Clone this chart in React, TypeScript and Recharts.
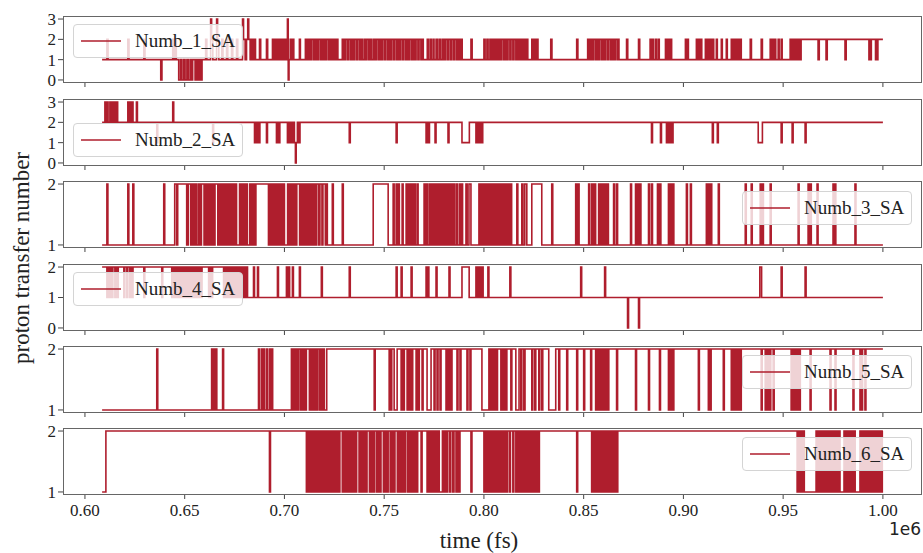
import React from 'react';
import { LineChart, Line, XAxis, YAxis } from 'recharts';

// time in units of 1e6 fs; each [time, level] pair starts a new step
const numb1: [number, number][] = [
  [0.6086, 1], [0.6110, 2], [0.6116, 1], [0.6215, 2], [0.6221, 1], [0.6295, 2], [0.6301, 1],
  [0.6380, 0], [0.6386, 1], [0.6440, 2], [0.6446, 1], [0.6452, 2], [0.6458, 1],
  [0.6470, 0], [0.6479, 1], [0.6486, 0], [0.6495, 1], [0.6502, 0], [0.6511, 1], [0.6518, 0], [0.6527, 1],
  [0.6533, 0], [0.6540, 1], [0.6552, 0], [0.6560, 1], [0.6567, 0], [0.6575, 1], [0.6580, 0], [0.6587, 1],
  [0.6605, 2], [0.6611, 1], [0.6630, 3], [0.6635, 2], [0.6641, 1], [0.6660, 3], [0.6665, 2], [0.6671, 1],
  [0.6686, 2], [0.6692, 1], [0.6710, 2], [0.6716, 1], [0.6735, 2], [0.6741, 1], [0.6760, 2], [0.6766, 1],
  [0.6790, 3], [0.6795, 2], [0.6803, 1], [0.6810, 2], [0.6816, 3], [0.6821, 2], [0.6828, 1], [0.6835, 2],
  [0.6842, 1], [0.6848, 2], [0.6855, 1], [0.6875, 2], [0.6881, 1], [0.6910, 2], [0.6916, 1],
  [0.6940, 2], [0.6948, 1], [0.6955, 2], [0.6963, 1], [0.6970, 2], [0.6978, 1], [0.6986, 2], [0.6993, 1],
  [0.7001, 2], [0.7009, 1], [0.7015, 3], [0.7019, 0], [0.7023, 1], [0.7029, 2], [0.7036, 1], [0.7041, 2],
  [0.7047, 1], [0.7075, 2], [0.7080, 1],
  [0.7105, 2], [0.7113, 1], [0.7120, 2], [0.7128, 1], [0.7135, 2], [0.7144, 1], [0.7150, 2], [0.7158, 1],
  [0.7163, 2], [0.7168, 1], [0.7172, 2], [0.7181, 1], [0.7188, 2], [0.7196, 1], [0.7201, 2], [0.7206, 1],
  [0.7212, 2], [0.7221, 1], [0.7228, 2], [0.7236, 1], [0.7241, 2], [0.7246, 1], [0.7249, 2], [0.7257, 1],
  [0.7263, 2], [0.7268, 1],
  [0.7290, 2], [0.7298, 1], [0.7305, 2], [0.7314, 1], [0.7320, 2], [0.7329, 1], [0.7337, 2], [0.7344, 1],
  [0.7352, 2], [0.7361, 1], [0.7367, 2], [0.7376, 1], [0.7383, 2], [0.7390, 1], [0.7399, 2], [0.7407, 1],
  [0.7414, 2], [0.7423, 1], [0.7429, 2], [0.7437, 1], [0.7446, 2], [0.7453, 1], [0.7460, 2], [0.7469, 1],
  [0.7476, 2], [0.7484, 1], [0.7491, 2], [0.7500, 1], [0.7506, 2], [0.7515, 1], [0.7522, 2], [0.7530, 1],
  [0.7537, 2], [0.7546, 1], [0.7552, 2], [0.7561, 1], [0.7568, 2], [0.7576, 1], [0.7583, 2], [0.7592, 1],
  [0.7598, 2], [0.7607, 1], [0.7614, 2], [0.7622, 1], [0.7629, 2], [0.7638, 1], [0.7645, 2], [0.7653, 1],
  [0.7660, 2], [0.7669, 1], [0.7675, 2], [0.7684, 1], [0.7690, 2], [0.7696, 1],
  [0.7716, 2], [0.7722, 1], [0.7731, 2], [0.7736, 1], [0.7745, 2], [0.7750, 1], [0.7760, 2], [0.7766, 1],
  [0.7775, 2], [0.7781, 1], [0.7790, 2], [0.7798, 1], [0.7806, 2], [0.7815, 1], [0.7822, 2], [0.7831, 1],
  [0.7838, 2], [0.7847, 1], [0.7854, 2], [0.7863, 1], [0.7870, 2], [0.7878, 1], [0.7885, 2], [0.7891, 1],
  [0.7935, 2], [0.7941, 1],
  [0.8000, 2], [0.8006, 1], [0.8015, 2], [0.8021, 1], [0.8030, 2], [0.8038, 1], [0.8045, 2], [0.8053, 1],
  [0.8060, 2], [0.8068, 1], [0.8075, 2], [0.8083, 1], [0.8090, 2], [0.8099, 1], [0.8106, 2], [0.8114, 1],
  [0.8121, 2], [0.8130, 1], [0.8136, 2], [0.8145, 1], [0.8151, 2], [0.8160, 1], [0.8167, 2], [0.8175, 1],
  [0.8182, 2], [0.8190, 1], [0.8198, 2], [0.8206, 1], [0.8213, 2], [0.8220, 1],
  [0.8240, 2], [0.8247, 1], [0.8254, 2], [0.8262, 1], [0.8266, 2], [0.8271, 1],
  [0.8335, 2], [0.8341, 1], [0.8465, 2], [0.8471, 1],
  [0.8520, 2], [0.8528, 1], [0.8535, 2], [0.8543, 1], [0.8550, 2], [0.8559, 1], [0.8566, 2], [0.8574, 1],
  [0.8581, 2], [0.8590, 1], [0.8597, 2], [0.8605, 1], [0.8612, 2], [0.8621, 1], [0.8627, 2], [0.8636, 1],
  [0.8643, 2], [0.8651, 1], [0.8658, 2], [0.8667, 1], [0.8671, 2], [0.8677, 1],
  [0.8715, 2], [0.8721, 1], [0.8775, 2], [0.8781, 1], [0.8833, 2], [0.8838, 1], [0.8845, 2], [0.8850, 1],
  [0.8860, 2], [0.8865, 1], [0.8874, 2], [0.8879, 1], [0.8910, 2], [0.8915, 1], [0.8922, 2], [0.8927, 1],
  [0.8935, 2], [0.8941, 1], [0.9010, 2], [0.9014, 1], [0.9020, 2], [0.9025, 1], [0.9065, 2], [0.9070, 1],
  [0.9077, 2], [0.9082, 1], [0.9087, 2], [0.9092, 1], [0.9110, 2], [0.9116, 1], [0.9122, 2], [0.9128, 1],
  [0.9134, 2], [0.9140, 1], [0.9146, 2], [0.9152, 1], [0.9165, 2], [0.9170, 1], [0.9190, 2], [0.9195, 1],
  [0.9215, 2], [0.9220, 1], [0.9240, 2], [0.9247, 1], [0.9254, 2], [0.9261, 1], [0.9268, 2], [0.9275, 1],
  [0.9282, 2], [0.9290, 1], [0.9335, 2], [0.9341, 1], [0.9390, 2], [0.9396, 1], [0.9435, 2], [0.9441, 1],
  [0.9447, 2], [0.9453, 1], [0.9458, 2], [0.9463, 1], [0.9475, 2], [0.9480, 1], [0.9490, 2], [0.9495, 1],
  [0.9535, 2], [0.9542, 1], [0.9549, 2], [0.9556, 1], [0.9563, 2], [0.9570, 1], [0.9577, 2], [0.9584, 1],
  [0.9590, 2], [0.9675, 1], [0.9681, 2], [0.9715, 1], [0.9721, 2], [0.9810, 1], [0.9816, 2],
  [0.9930, 1], [0.9934, 2], [0.9938, 1], [0.9942, 2], [0.9963, 1], [0.9967, 2], [0.9971, 1], [0.9975, 2],
  [1.0000, 2],
];

const numb2: [number, number][] = [
  [0.6086, 2], [0.6100, 3], [0.6106, 2], [0.6110, 3], [0.6116, 2], [0.6125, 3], [0.6130, 2], [0.6134, 3],
  [0.6140, 2], [0.6148, 3], [0.6153, 2], [0.6158, 3], [0.6164, 2], [0.6215, 3], [0.6220, 2], [0.6226, 3],
  [0.6232, 2], [0.6236, 3], [0.6241, 2], [0.6258, 3], [0.6263, 2], [0.6360, 1], [0.6365, 2],
  [0.6440, 3], [0.6445, 2], [0.6640, 1], [0.6645, 2],
  [0.6850, 1], [0.6856, 2], [0.6862, 1], [0.6868, 2], [0.6872, 1], [0.6877, 2], [0.6910, 1], [0.6915, 2],
  [0.6960, 1], [0.6965, 2], [0.6972, 1], [0.6977, 2], [0.7015, 1], [0.7020, 2], [0.7026, 1], [0.7031, 2],
  [0.7038, 1], [0.7043, 2], [0.7050, 1], [0.7055, 0], [0.7059, 1], [0.7065, 2], [0.7072, 1], [0.7078, 2],
  [0.7325, 1], [0.7330, 2], [0.7560, 1], [0.7565, 2], [0.7710, 1], [0.7715, 2], [0.7720, 1], [0.7727, 2],
  [0.7755, 1], [0.7760, 2], [0.7820, 1], [0.7825, 2], [0.7890, 1], [0.7927, 2],
  [0.7960, 1], [0.7965, 2], [0.7969, 1], [0.7974, 2], [0.7978, 1], [0.7984, 2], [0.7988, 1], [0.7994, 2],
  [0.8840, 1], [0.8845, 2], [0.8885, 1], [0.8890, 2], [0.8915, 1], [0.8920, 2], [0.8925, 1], [0.8930, 2],
  [0.8935, 1], [0.8940, 2], [0.8944, 1], [0.8948, 2], [0.9145, 1], [0.9150, 2], [0.9170, 1], [0.9175, 2],
  [0.9375, 1], [0.9396, 2], [0.9490, 1], [0.9495, 2], [0.9545, 1], [0.9550, 2], [0.9610, 1], [0.9615, 2],
  [1.0000, 2],
];

const numb3: [number, number][] = [
  [0.6086, 1], [0.6110, 2], [0.6115, 1], [0.6215, 2], [0.6220, 1], [0.6240, 2], [0.6245, 1],
  [0.6395, 2], [0.6400, 1], [0.6450, 2], [0.6460, 1], [0.6465, 2],
  [0.6510, 1], [0.6518, 2], [0.6530, 1], [0.6537, 2], [0.6545, 1], [0.6553, 2], [0.6561, 1], [0.6570, 2],
  [0.6577, 1], [0.6584, 2], [0.6597, 1], [0.6604, 2], [0.6612, 1], [0.6620, 2], [0.6628, 1], [0.6636, 2],
  [0.6644, 1], [0.6652, 2], [0.6666, 1], [0.6673, 2], [0.6681, 1], [0.6689, 2], [0.6697, 1], [0.6705, 2],
  [0.6713, 1], [0.6721, 2], [0.6729, 1], [0.6737, 2], [0.6745, 1], [0.6753, 2], [0.6760, 1], [0.6775, 2],
  [0.6783, 1], [0.6791, 2], [0.6799, 1], [0.6806, 2], [0.6814, 1], [0.6826, 2], [0.6834, 1], [0.6842, 2],
  [0.6850, 1], [0.6857, 2],
  [0.6920, 1], [0.6928, 2], [0.6936, 1], [0.6944, 2], [0.6952, 1], [0.6960, 2], [0.6968, 1], [0.6976, 2],
  [0.6984, 1], [0.6992, 2], [0.7000, 1], [0.7016, 2], [0.7024, 1], [0.7032, 2], [0.7040, 1], [0.7048, 2],
  [0.7056, 1], [0.7062, 2], [0.7076, 1], [0.7083, 2], [0.7090, 1], [0.7098, 2], [0.7106, 1], [0.7114, 2],
  [0.7122, 1], [0.7130, 2], [0.7138, 1], [0.7146, 2], [0.7154, 1], [0.7162, 2], [0.7172, 1], [0.7178, 2],
  [0.7188, 1], [0.7193, 2], [0.7205, 1], [0.7210, 2], [0.7215, 1],
  [0.7240, 2], [0.7245, 1], [0.7290, 2], [0.7295, 1], [0.7445, 2], [0.7520, 1], [0.7545, 2], [0.7550, 1],
  [0.7560, 2], [0.7565, 1], [0.7570, 2], [0.7576, 1], [0.7590, 2], [0.7595, 1],
  [0.7610, 2], [0.7617, 1], [0.7624, 2], [0.7631, 1], [0.7638, 2], [0.7645, 1], [0.7650, 2], [0.7656, 1],
  [0.7665, 2], [0.7670, 1], [0.7700, 2], [0.7706, 1], [0.7711, 2], [0.7716, 1],
  [0.7725, 2], [0.7733, 1], [0.7741, 2], [0.7749, 1], [0.7757, 2], [0.7765, 1], [0.7773, 2], [0.7781, 1],
  [0.7789, 2], [0.7797, 1], [0.7805, 2], [0.7813, 1], [0.7821, 2], [0.7829, 1], [0.7835, 2], [0.7840, 1],
  [0.7848, 2], [0.7853, 1], [0.7862, 2], [0.7867, 1], [0.7877, 2], [0.7882, 1], [0.7888, 2], [0.7893, 1],
  [0.7910, 2], [0.7916, 1], [0.7925, 2], [0.7935, 1], [0.7975, 2], [0.7980, 1],
  [0.7987, 2], [0.7995, 1], [0.8003, 2], [0.8011, 1], [0.8019, 2], [0.8027, 1], [0.8035, 2], [0.8043, 1],
  [0.8051, 2], [0.8059, 1], [0.8067, 2], [0.8075, 1], [0.8083, 2], [0.8091, 1], [0.8099, 2], [0.8107, 1],
  [0.8115, 2], [0.8123, 1], [0.8131, 2], [0.8139, 1],
  [0.8165, 2], [0.8170, 1], [0.8190, 2], [0.8196, 1], [0.8205, 2], [0.8215, 1], [0.8240, 2], [0.8290, 1],
  [0.8340, 2], [0.8345, 1], [0.8460, 2], [0.8465, 1], [0.8472, 2], [0.8477, 1], [0.8525, 2], [0.8530, 1],
  [0.8540, 2], [0.8546, 1], [0.8553, 2], [0.8560, 1], [0.8575, 2], [0.8582, 1], [0.8589, 2], [0.8596, 1],
  [0.8603, 2], [0.8610, 1], [0.8617, 2], [0.8624, 1], [0.8650, 2], [0.8655, 1], [0.8665, 2], [0.8670, 1],
  [0.8735, 2], [0.8740, 1], [0.8760, 2], [0.8766, 1], [0.8772, 2], [0.8778, 1], [0.8782, 2], [0.8787, 1],
  [0.8825, 2], [0.8830, 1], [0.8840, 2], [0.8845, 1], [0.8870, 2], [0.8876, 1], [0.8881, 2], [0.8887, 1],
  [0.8925, 2], [0.8931, 1], [0.8937, 2], [0.8943, 1], [0.8947, 2], [0.8952, 1], [0.9015, 2], [0.9020, 1],
  [0.9035, 2], [0.9040, 1], [0.9115, 2], [0.9121, 1], [0.9127, 2], [0.9133, 1], [0.9137, 2], [0.9142, 1],
  [0.9175, 2], [0.9180, 1], [0.9310, 2], [0.9315, 1], [0.9340, 2], [0.9345, 1], [0.9385, 2], [0.9390, 1],
  [0.9396, 2], [0.9401, 1], [0.9435, 2], [0.9440, 1], [0.9575, 2], [0.9580, 1], [0.9625, 2], [0.9630, 1],
  [0.9636, 2], [0.9641, 1], [0.9670, 2], [0.9675, 1], [0.9750, 2], [0.9754, 1], [0.9760, 2], [0.9764, 1],
  [0.9860, 2], [0.9865, 1], [1.0000, 1],
];

const numb4: [number, number][] = [
  [0.6086, 2], [0.6110, 1], [0.6115, 2], [0.6122, 1], [0.6128, 2], [0.6135, 1], [0.6140, 2], [0.6150, 1],
  [0.6156, 2], [0.6162, 1], [0.6167, 2], [0.6195, 1], [0.6200, 2], [0.6210, 1], [0.6215, 2], [0.6225, 1],
  [0.6230, 2], [0.6236, 1], [0.6241, 2], [0.6295, 1], [0.6300, 2], [0.6385, 1], [0.6390, 2],
  [0.6435, 1], [0.6443, 2], [0.6451, 1], [0.6459, 2], [0.6467, 1], [0.6475, 2], [0.6483, 1], [0.6491, 2],
  [0.6499, 1], [0.6507, 2], [0.6515, 1], [0.6523, 2], [0.6531, 1], [0.6539, 2], [0.6547, 1], [0.6555, 2],
  [0.6563, 1], [0.6571, 2], [0.6579, 1], [0.6587, 2], [0.6620, 1], [0.6626, 2], [0.6634, 1], [0.6640, 2],
  [0.6695, 1], [0.6703, 2], [0.6711, 1], [0.6719, 2], [0.6727, 1], [0.6735, 2], [0.6743, 1], [0.6751, 2],
  [0.6759, 1], [0.6767, 2], [0.6775, 1], [0.6783, 2], [0.6791, 1], [0.6798, 2], [0.6803, 1],
  [0.6810, 2], [0.6815, 1], [0.6845, 2], [0.6850, 1], [0.6865, 2], [0.6870, 1], [0.6965, 2], [0.6970, 1],
  [0.7010, 2], [0.7015, 1], [0.7021, 2], [0.7026, 1], [0.7040, 2], [0.7045, 1], [0.7075, 2], [0.7080, 1],
  [0.7185, 2], [0.7190, 1], [0.7325, 2], [0.7330, 1], [0.7560, 2], [0.7565, 1], [0.7585, 2], [0.7590, 1],
  [0.7635, 2], [0.7640, 1], [0.7710, 2], [0.7715, 1], [0.7719, 2], [0.7724, 1], [0.7760, 2], [0.7765, 1],
  [0.7825, 2], [0.7830, 1], [0.7890, 2], [0.7926, 1], [0.7960, 2], [0.7965, 1], [0.7970, 2], [0.7975, 1],
  [0.7980, 2], [0.7985, 1], [0.7990, 2], [0.7996, 1], [0.8020, 2], [0.8025, 1], [0.8130, 2], [0.8135, 1],
  [0.8485, 2], [0.8490, 1], [0.8605, 2], [0.8610, 1], [0.8720, 0], [0.8725, 1], [0.8775, 0], [0.8780, 1],
  [0.9383, 2], [0.9392, 1], [0.9490, 2], [0.9495, 1], [0.9610, 2], [0.9615, 1], [1.0000, 1],
];

const numb5: [number, number][] = [
  [0.6086, 1], [0.6360, 2], [0.6365, 1], [0.6635, 2], [0.6641, 1], [0.6646, 2], [0.6652, 1], [0.6656, 2],
  [0.6661, 1], [0.6690, 2], [0.6695, 1], [0.6870, 2], [0.6875, 1], [0.6885, 2], [0.6890, 1], [0.6895, 2],
  [0.6900, 1], [0.6910, 2], [0.6915, 1], [0.6925, 2], [0.6930, 1], [0.6935, 2], [0.6941, 1],
  [0.7035, 2], [0.7041, 1], [0.7047, 2], [0.7053, 1], [0.7059, 2], [0.7065, 1], [0.7071, 2], [0.7080, 1],
  [0.7086, 2], [0.7092, 1], [0.7098, 2], [0.7104, 1], [0.7110, 2], [0.7125, 1], [0.7131, 2], [0.7137, 1],
  [0.7143, 2], [0.7149, 1], [0.7155, 2], [0.7161, 1], [0.7167, 2], [0.7176, 1], [0.7182, 2], [0.7188, 1],
  [0.7194, 2], [0.7200, 1], [0.7212, 2], [0.7450, 1], [0.7455, 2],
  [0.7525, 1], [0.7530, 2], [0.7533, 1], [0.7538, 2], [0.7550, 1], [0.7565, 2], [0.7585, 1], [0.7590, 2],
  [0.7596, 1], [0.7601, 2], [0.7615, 1], [0.7621, 2], [0.7627, 1], [0.7633, 2], [0.7638, 1], [0.7643, 2],
  [0.7660, 1], [0.7665, 2], [0.7671, 1], [0.7676, 2], [0.7690, 1], [0.7695, 2], [0.7715, 1], [0.7735, 2],
  [0.7750, 1], [0.7755, 2], [0.7765, 1], [0.7770, 2], [0.7780, 1], [0.7785, 2], [0.7810, 1], [0.7816, 2],
  [0.7822, 1], [0.7828, 2], [0.7834, 1], [0.7840, 2], [0.7865, 1], [0.7870, 2], [0.7880, 1], [0.7885, 2],
  [0.7915, 1], [0.7920, 2], [0.7930, 1], [0.7935, 2], [0.7990, 1], [0.8025, 2], [0.8030, 1], [0.8036, 2],
  [0.8042, 1], [0.8048, 2], [0.8054, 1], [0.8060, 2], [0.8064, 1], [0.8068, 2], [0.8085, 1], [0.8091, 2],
  [0.8097, 1], [0.8103, 2], [0.8109, 1], [0.8115, 2], [0.8135, 1], [0.8140, 2], [0.8160, 1], [0.8176, 2],
  [0.8185, 1], [0.8190, 2], [0.8200, 1], [0.8206, 2], [0.8240, 1], [0.8245, 2], [0.8255, 1], [0.8260, 2],
  [0.8275, 1], [0.8280, 2], [0.8290, 1], [0.8295, 2], [0.8325, 1], [0.8360, 2], [0.8375, 1], [0.8380, 2],
  [0.8415, 1], [0.8420, 2], [0.8465, 1], [0.8470, 2], [0.8500, 1], [0.8505, 2], [0.8535, 1], [0.8540, 2],
  [0.8560, 1], [0.8566, 2], [0.8572, 1], [0.8578, 2], [0.8584, 1], [0.8590, 2], [0.8596, 1], [0.8602, 2],
  [0.8608, 1], [0.8614, 2], [0.8620, 1], [0.8626, 2], [0.8665, 1], [0.8670, 2], [0.8760, 1], [0.8765, 2],
  [0.8825, 1], [0.8830, 2], [0.8880, 1], [0.8885, 2], [0.8925, 1], [0.8931, 2], [0.8937, 1], [0.8943, 2],
  [0.8947, 1], [0.8952, 2], [0.9075, 1], [0.9080, 2], [0.9125, 1], [0.9130, 2], [0.9134, 1], [0.9139, 2],
  [0.9200, 1], [0.9205, 2], [0.9240, 1], [0.9247, 2], [0.9254, 1], [0.9261, 2], [0.9268, 1], [0.9275, 2],
  [0.9282, 1], [0.9290, 2], [0.9390, 1], [0.9395, 2], [0.9410, 1], [0.9415, 2], [0.9422, 1], [0.9427, 2],
  [0.9433, 1], [0.9438, 2], [0.9450, 1], [0.9455, 2], [0.9540, 1], [0.9547, 2], [0.9554, 1], [0.9561, 2],
  [0.9568, 1], [0.9575, 2], [0.9580, 1], [0.9586, 2], [0.9635, 1], [0.9640, 2], [0.9735, 1], [0.9740, 2],
  [0.9760, 1], [0.9765, 2], [0.9850, 1], [0.9855, 2], [0.9885, 1], [0.9890, 2], [0.9894, 1], [0.9898, 2],
  [0.9910, 1], [0.9915, 2], [1.0000, 2],
];

const numb6: [number, number][] = [
  [0.6086, 1], [0.6105, 2], [0.6925, 1], [0.6930, 2],
  [0.7110, 1], [0.7118, 2], [0.7126, 1], [0.7134, 2], [0.7142, 1], [0.7150, 2], [0.7158, 1], [0.7166, 2],
  [0.7174, 1], [0.7182, 2], [0.7190, 1], [0.7198, 2], [0.7206, 1], [0.7214, 2], [0.7222, 1], [0.7230, 2],
  [0.7238, 1], [0.7246, 2], [0.7254, 1], [0.7262, 2], [0.7270, 1], [0.7278, 2], [0.7290, 1], [0.7298, 2],
  [0.7306, 1], [0.7314, 2], [0.7322, 1], [0.7330, 2], [0.7338, 1], [0.7346, 2], [0.7354, 1], [0.7362, 2],
  [0.7374, 1], [0.7382, 2], [0.7390, 1], [0.7398, 2], [0.7406, 1], [0.7414, 2], [0.7426, 1], [0.7434, 2],
  [0.7442, 1], [0.7450, 2], [0.7460, 1], [0.7468, 2], [0.7476, 1], [0.7484, 2], [0.7496, 1], [0.7504, 2],
  [0.7512, 1], [0.7520, 2], [0.7530, 1], [0.7538, 2], [0.7546, 1], [0.7554, 2], [0.7566, 1], [0.7574, 2],
  [0.7582, 1], [0.7590, 2], [0.7598, 1], [0.7606, 2], [0.7616, 1], [0.7624, 2], [0.7632, 1], [0.7640, 2],
  [0.7648, 1], [0.7656, 2], [0.7662, 1], [0.7668, 2], [0.7685, 1], [0.7690, 2],
  [0.7715, 1], [0.7723, 2], [0.7731, 1], [0.7739, 2], [0.7747, 1], [0.7755, 2], [0.7763, 1], [0.7771, 2],
  [0.7776, 1], [0.7792, 2], [0.7798, 1], [0.7804, 2], [0.7812, 1], [0.7818, 2], [0.7828, 1], [0.7834, 2],
  [0.7844, 1], [0.7850, 2], [0.7860, 1], [0.7866, 2], [0.7874, 1], [0.7880, 2], [0.7935, 1], [0.7940, 2],
  [0.8000, 1], [0.8008, 2], [0.8016, 1], [0.8024, 2], [0.8032, 1], [0.8040, 2], [0.8048, 1], [0.8056, 2],
  [0.8064, 1], [0.8072, 2], [0.8080, 1], [0.8088, 2], [0.8096, 1], [0.8104, 2], [0.8112, 1], [0.8118, 2],
  [0.8128, 1], [0.8133, 2], [0.8145, 1], [0.8150, 2],
  [0.8160, 1], [0.8168, 2], [0.8176, 1], [0.8184, 2], [0.8192, 1], [0.8200, 2], [0.8208, 1], [0.8216, 2],
  [0.8224, 1], [0.8232, 2], [0.8240, 1], [0.8248, 2], [0.8256, 1], [0.8264, 2], [0.8272, 1], [0.8278, 2],
  [0.8465, 1], [0.8470, 2],
  [0.8540, 1], [0.8548, 2], [0.8556, 1], [0.8564, 2], [0.8572, 1], [0.8580, 2], [0.8588, 1], [0.8596, 2],
  [0.8604, 1], [0.8612, 2], [0.8620, 1], [0.8628, 2], [0.8636, 1], [0.8644, 2], [0.8652, 1], [0.8660, 2],
  [0.8666, 1], [0.8671, 2],
  [0.9570, 1], [0.9576, 2], [0.9582, 1], [0.9588, 2], [0.9594, 1], [0.9600, 2], [0.9606, 1],
  [0.9665, 2], [0.9673, 1], [0.9681, 2], [0.9689, 1], [0.9697, 2], [0.9705, 1], [0.9713, 2], [0.9721, 1],
  [0.9729, 2], [0.9737, 1], [0.9745, 2], [0.9753, 1], [0.9761, 2], [0.9769, 1], [0.9777, 2], [0.9785, 1],
  [0.9805, 2], [0.9813, 1], [0.9821, 2], [0.9829, 1], [0.9837, 2], [0.9845, 1], [0.9853, 2], [0.9861, 1],
  [0.9885, 2], [0.9893, 1], [0.9901, 2], [0.9909, 1], [0.9917, 2], [0.9925, 1], [0.9933, 2], [0.9941, 1],
  [0.9949, 2], [0.9957, 1], [0.9965, 2], [0.9973, 1], [0.9981, 2], [0.9989, 1], [0.9997, 2], [1.0000, 2],
];

const xTicks = [0.6, 0.65, 0.7, 0.75, 0.8, 0.85, 0.9, 0.95, 1.0];
const seriesNames = ['Numb_1_SA', 'Numb_2_SA', 'Numb_3_SA', 'Numb_4_SA', 'Numb_5_SA', 'Numb_6_SA'];

const RED = '#af1e2d';
const SERIF = '"Liberation Serif", "Times New Roman", serif';
const PLOT_H = 67;
const MT = 10;
const X_DOMAIN: [number, number] = [0.589, 1.0196];

type PanelCfg = {
  events: [number, number][]
  yDomain: [number, number]
  yTicks: number[]
  top: number
  legend: { left: number, top: number }
}

const panels: PanelCfg[] = [
  { events: numb1, yDomain: [-0.15, 3.15], yTicks: [0, 1, 2, 3], top: 16, legend: { left: 73, top: 24 } },
  { events: numb2, yDomain: [-0.15, 3.15], yTicks: [0, 1, 2, 3], top: 99, legend: { left: 73, top: 123 } },
  { events: numb3, yDomain: [0.95, 2.05], yTicks: [1, 2], top: 181, legend: { left: 742, top: 191 } },
  { events: numb4, yDomain: [-0.1, 2.1], yTicks: [0, 1, 2], top: 264, legend: { left: 73, top: 272 } },
  { events: numb5, yDomain: [0.95, 2.05], yTicks: [1, 2], top: 346, legend: { left: 742, top: 355 } },
  { events: numb6, yDomain: [0.95, 2.05], yTicks: [1, 2], top: 428, legend: { left: 742, top: 437 } },
];

const XTick = (props: any) => (
  <text x={props.x} y={props.y} dy="0.71em" textAnchor="middle" fontFamily={SERIF} fontSize={17} fill="#222">
    {props.payload.value.toFixed(2)}
  </text>
);

// upper panels keep their tick marks but show no labels
const BlankTick = () => <g />;

const YTick = (props: any) => (
  <text x={props.x} y={props.y} dy="0.35em" textAnchor="end" fontFamily={SERIF} fontSize={17} fill="#222">
    {props.payload.value}
  </text>
);

const Panel = ({ p, last }: { p: PanelCfg, last: boolean }) => {
  const data = p.events.map(([t, v]) => ({ t, v }));
  const xh = last ? 30 : 6;
  return (
    <div style={{ position: 'absolute', left: 0, top: p.top - MT }}>
      <LineChart
        width={923}
        height={MT + PLOT_H + xh}
        data={data}
        margin={{ top: MT, right: 1, bottom: 0, left: 0 }}
      >
        <XAxis
          dataKey="t"
          type="number"
          domain={X_DOMAIN}
          allowDataOverflow
          ticks={xTicks}
          interval={0}
          axisLine={false}
          tickSize={4}
          tickMargin={5}
          height={xh}
          stroke="#444"
          tick={last ? <XTick /> : <BlankTick />}
        />
        <YAxis
          type="number"
          domain={p.yDomain}
          allowDataOverflow
          ticks={p.yTicks}
          interval={0}
          width={63}
          axisLine={false}
          tickSize={5}
          tickMargin={2}
          stroke="#444"
          tick={<YTick />}
        />
        <Line type="stepAfter" dataKey="v" stroke={RED} strokeWidth={1.6} dot={false} isAnimationActive={false} />
      </LineChart>
      <div style={{
        position: 'absolute', left: 63, top: MT, width: 859, height: PLOT_H,
        border: '1px solid #666', boxSizing: 'border-box', pointerEvents: 'none',
      }} />
    </div>
  );
};

const Legend = ({ name, left, top }: { name: string, left: number, top: number }) => (
  <div style={{
    position: 'absolute', left, top, width: 170, height: 34, boxSizing: 'border-box',
    background: 'rgba(255,255,255,0.8)', border: '1px solid #d4d4d4', borderRadius: 4,
  }}>
    <svg width={50} height={32} style={{ position: 'absolute', left: 0, top: 0 }}>
      <line x1={7} y1={16} x2={47} y2={16} stroke={RED} strokeWidth={1.5} />
    </svg>
    <span style={{
      position: 'absolute', left: 61, top: 6, fontFamily: SERIF, fontSize: 19, lineHeight: '20px', color: '#222',
    }}>{name}</span>
  </div>
);

export default function App() {
  return (
    <div style={{ position: 'absolute', left: 0, top: 0, width: 923, height: 553, background: '#fff', overflow: 'hidden' }}>
      {panels.map((p, i) => (
        <Panel key={i} p={p} last={i === panels.length - 1} />
      ))}
      {panels.map((p, i) => (
        <Legend key={`l${i}`} name={seriesNames[i]} left={p.legend.left} top={p.legend.top} />
      ))}
      <div style={{
        position: 'absolute', left: 22, top: 258, transform: 'translate(-50%, -50%) rotate(-90deg)',
        whiteSpace: 'nowrap', fontFamily: SERIF, fontSize: 23, color: '#222',
      }}>proton transfer number</div>
      <div style={{
        position: 'absolute', left: 479, top: 541, transform: 'translate(-50%, -50%)',
        whiteSpace: 'nowrap', fontFamily: SERIF, fontSize: 23, color: '#222',
      }}>time (fs)</div>
      <div style={{
        position: 'absolute', right: 2, top: 519, fontFamily: '"DejaVu Sans", sans-serif', fontSize: 17, color: '#222',
      }}>1e6</div>
    </div>
  );
}
